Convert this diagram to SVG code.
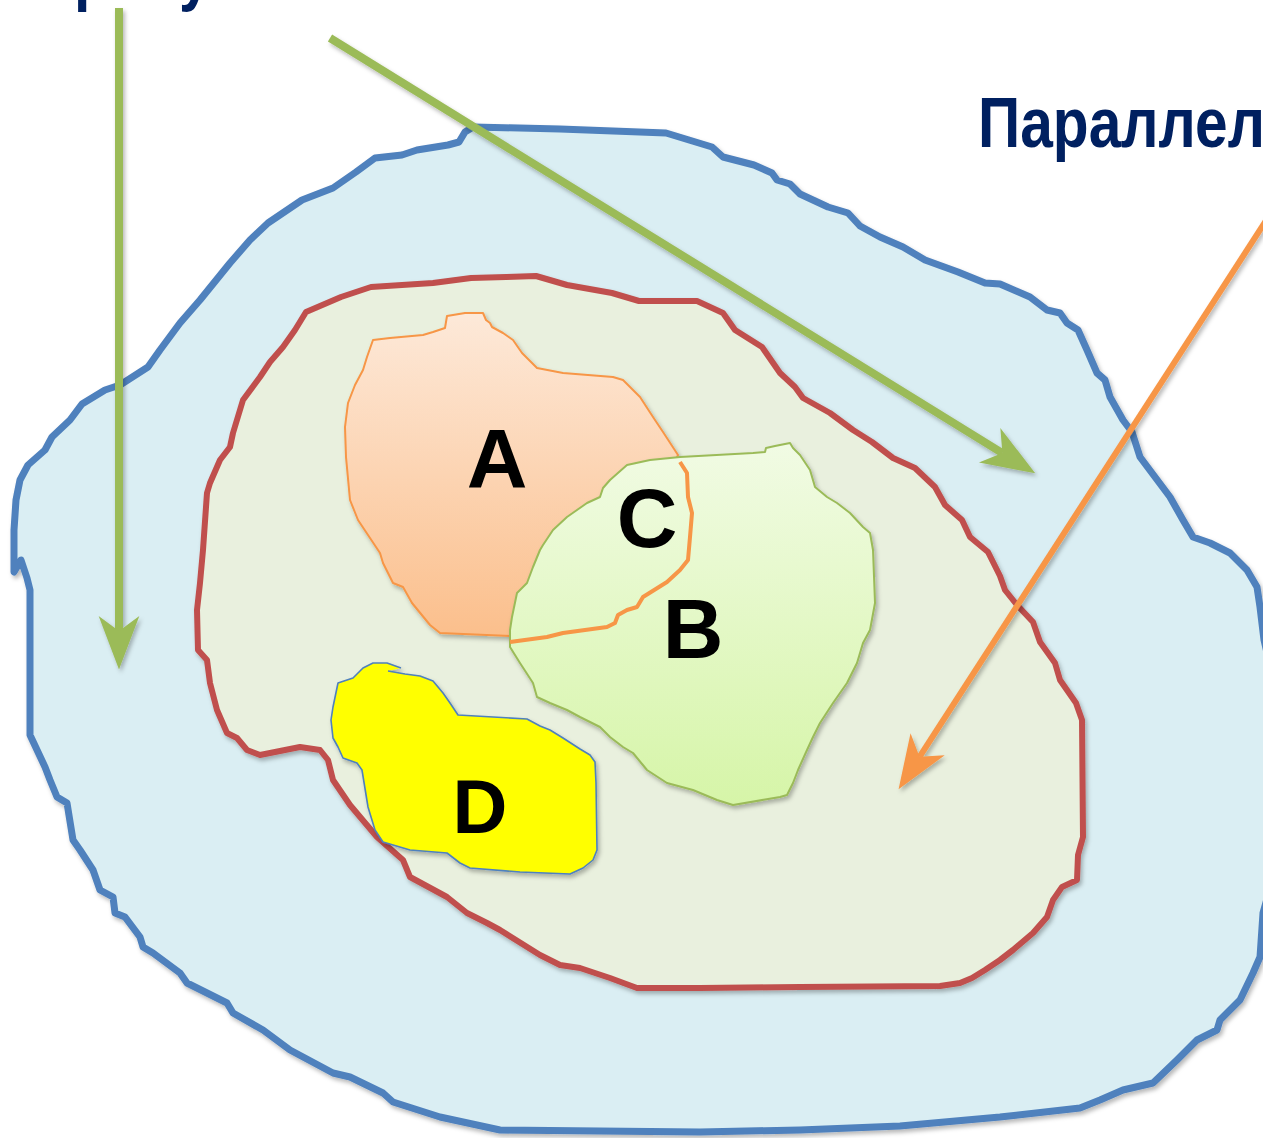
<svg xmlns="http://www.w3.org/2000/svg" width="1263" height="1138" viewBox="0 0 1263 1138">
<style>
.lbl{font-family:"Liberation Sans",Arial,sans-serif;font-weight:bold;fill:#000;text-anchor:middle}
.ttl{font-family:"Liberation Sans",Arial,sans-serif;font-weight:bold;fill:#002060;font-size:71px}
.thick{stroke-linejoin:round;stroke-linecap:round}
.conn{fill:none;stroke-linecap:butt}
</style>
<defs>
<filter id="sh" filterUnits="userSpaceOnUse" x="-60" y="-60" width="1400" height="1280">
<feDropShadow dx="2" dy="3" stdDeviation="2" flood-color="#000" flood-opacity="0.28"/>
</filter>
<linearGradient id="gA" x1="0" y1="0" x2="0" y2="1">
<stop offset="0" stop-color="#FDE9D9"/>
<stop offset="1" stop-color="#FBBF8C"/>
</linearGradient>
<linearGradient id="gB" x1="0" y1="0" x2="0" y2="1">
<stop offset="0" stop-color="#F1FBE4"/>
<stop offset="1" stop-color="#D6F5A8"/>
</linearGradient>
<marker id="arrG" markerUnits="userSpaceOnUse" markerWidth="60" markerHeight="50" viewBox="-16 -22 56 44" refX="0" refY="0" orient="auto" overflow="visible">
<path d="M36,0 L-14,-19 L0,0 L-14,19 Z" fill="#9BBB59"/>
</marker>
<marker id="arrO" markerUnits="userSpaceOnUse" markerWidth="60" markerHeight="50" viewBox="-16 -22 56 44" refX="0" refY="0" orient="auto" overflow="visible">
<path d="M36,0 L-14,-19 L0,0 L-14,19 Z" fill="#F79646"/>
</marker>
</defs>

<g id="outer" filter="url(#sh)">
<path class="thick" fill="#DAEEF3" stroke="#4F81BD" stroke-width="7" d="M473,127 L560,129 L666,133 L712,147 L723,157 L754,165 L772,173 L777,180 L790,184 L800,194 L828,207 L848,213 L860,226 L880,237 L903,247 L925,260 L958,272 L985,283 L1000,284 L1030,297 L1047,310 L1060,313 L1067,323 L1078,330 L1087,350 L1097,373 L1105,380 L1110,397 L1123,420 L1132,432 L1140,457 L1170,497 L1183,520 L1193,537 L1210,543 L1230,553 L1247,570 L1257,587 L1260,607 L1264,640 L1278,700 L1278,860 L1263,913 L1260,957 L1253,973 L1240,1000 L1220,1020 L1217,1030 L1197,1040 L1177,1060 L1153,1083 L1123,1090 L1100,1100 L1080,1108 L1000,1117 L900,1126 L800,1130 L700,1132 L500,1130 L440,1117 L393,1102 L383,1093 L350,1077 L333,1073 L290,1050 L263,1030 L233,1013 L227,1003 L187,983 L180,973 L153,953 L143,947 L140,937 L125,917 L115,913 L113,897 L100,890 L93,870 L80,850 L73,840 L67,803 L57,797 L50,780 L45,767 L30,735 L30,590 L27,578 L21,560 L14,572 L14,530 L16,500 L20,480 L28,465 L45,450 L52,437 L70,420 L82,404 L105,390 L120,385 L148,367 L160,350 L180,323 L200,300 L230,263 L250,240 L268,223 L302,200 L333,188 L356,172 L375,158 L402,155 L417,150 L448,145 L459,142 L465,132 Z"/>
</g>

<g id="inner" filter="url(#sh)">
<path class="thick" fill="#E9F0DE" stroke="#C0504D" stroke-width="6" d="M371,287 L433,283 L471,278 L536,276 L567,285 L612,293 L639,301 L697,301 L723,313 L735,330 L762,347 L780,373 L795,387 L803,398 L830,413 L853,430 L872,442 L893,458 L915,468 L935,487 L945,505 L962,520 L970,537 L988,552 L1000,576 L1005,590 L1017,605 L1033,622 L1040,642 L1055,663 L1060,680 L1076,703 L1082,720 L1083,837 L1078,855 L1077,880 L1062,887 L1053,900 L1047,917 L1033,933 L1013,950 L1000,960 L985,970 L972,978 L960,983 L940,986 L800,987 L700,988 L637,988 L610,978 L580,968 L560,965 L540,955 L500,930 L487,923 L467,913 L447,897 L410,877 L403,860 L377,837 L350,805 L333,780 L328,760 L320,750 L300,747 L285,750 L260,755 L247,750 L237,738 L227,733 L217,710 L210,683 L207,660 L198,650 L197,610 L200,583 L203,550 L207,493 L210,483 L220,460 L230,447 L233,433 L243,400 L260,377 L270,362 L283,347 L295,330 L306,312 L341,297 Z"/>
</g>

<g id="A" filter="url(#sh)">
<path fill="url(#gA)" stroke="#F79646" stroke-width="2" stroke-linejoin="round" d="M447,316 L465,313 L483,313 L486,320 L490,323 L492,327 L503,333 L513,340 L522,353 L537,368 L563,373 L613,377 L623,380 L640,397 L653,417 L663,432 L678,455 L650,520 L600,600 L540,630 L510,636 L440,633 L430,625 L412,603 L403,587 L393,583 L383,563 L380,553 L358,520 L350,500 L346,457 L345,427 L348,403 L355,385 L363,370 L367,357 L373,340 L390,338 L423,335 L433,332 L445,328 Z"/>
<text class="lbl" x="497" y="488" font-size="84">A</text>
</g>

<g id="BC" filter="url(#sh)">
<path fill="url(#gB)" stroke="#9BBB59" stroke-width="2" stroke-linejoin="round" d="M627,465 L650,460 L680,457 L753,453 L765,452 L766,448 L775,446 L790,443 L793,448 L800,455 L810,470 L815,487 L827,497 L837,503 L850,513 L863,527 L870,533 L873,550 L875,603 L870,630 L863,643 L857,663 L847,683 L833,703 L820,723 L813,737 L807,750 L798,770 L793,783 L787,795 L780,797 L733,805 L717,800 L693,790 L667,783 L647,770 L633,753 L623,747 L610,737 L600,727 L580,717 L567,710 L550,703 L537,697 L533,683 L520,663 L510,647 L510,630 L512,617 L517,593 L527,583 L533,567 L540,550 L543,545 L553,530 L567,517 L587,503 L600,497 L603,488 L610,480 Z"/>
<path fill="none" stroke="#F79646" stroke-width="4" stroke-linejoin="round" d="M680,462 L687,473 L688,497 L692,513 L690,537 L688,560 L680,570 L667,582 L643,597 L637,607 L627,610 L618,615 L615,623 L607,627 L563,633 L547,637 L510,642"/>
<text class="lbl" x="647" y="547" font-size="84">C</text>
<text class="lbl" x="693" y="658" font-size="84">B</text>
</g>

<g id="D" filter="url(#sh)">
<path fill="#FFFF00" stroke="#4F81BD" stroke-width="1.6" stroke-linejoin="round" d="M388,671 L405,674 L420,676 L433,681 L443,693 L450,703 L458,715 L527,719 L540,726 L550,730 L563,738 L580,749 L590,755 L595,762 L596,783 L597,850 L593,860 L583,868 L570,874 L520,872 L470,868 L460,863 L447,853 L410,850 L383,842 L375,830 L368,807 L362,770 L357,763 L343,758 L338,747 L333,738 L331,720 L333,707 L338,683 L353,678 L363,668 L373,663 L387,663 L401,668"/>
<text class="lbl" x="480" y="833" font-size="76">D</text>
</g>

<g id="connectors" filter="url(#sh)">
<path class="conn" stroke="#9BBB59" stroke-width="8" d="M119,8 L119,631" marker-end="url(#arrG)"/>
<path class="conn" stroke="#9BBB59" stroke-width="8" d="M330,38 L1002.4,453.1" marker-end="url(#arrG)"/>
<path class="conn" stroke="#F79646" stroke-width="6" d="M1280,199 L919.5,756.8" marker-end="url(#arrO)"/>
</g>

<g id="titles">
<text class="ttl" x="978" y="147" textLength="287" lengthAdjust="spacingAndGlyphs">Параллел</text>
<text class="ttl" x="74" y="-3" textLength="36" lengthAdjust="spacingAndGlyphs">р</text>
<text class="ttl" x="179" y="-3" textLength="32" lengthAdjust="spacingAndGlyphs">у</text>
</g>
</svg>
